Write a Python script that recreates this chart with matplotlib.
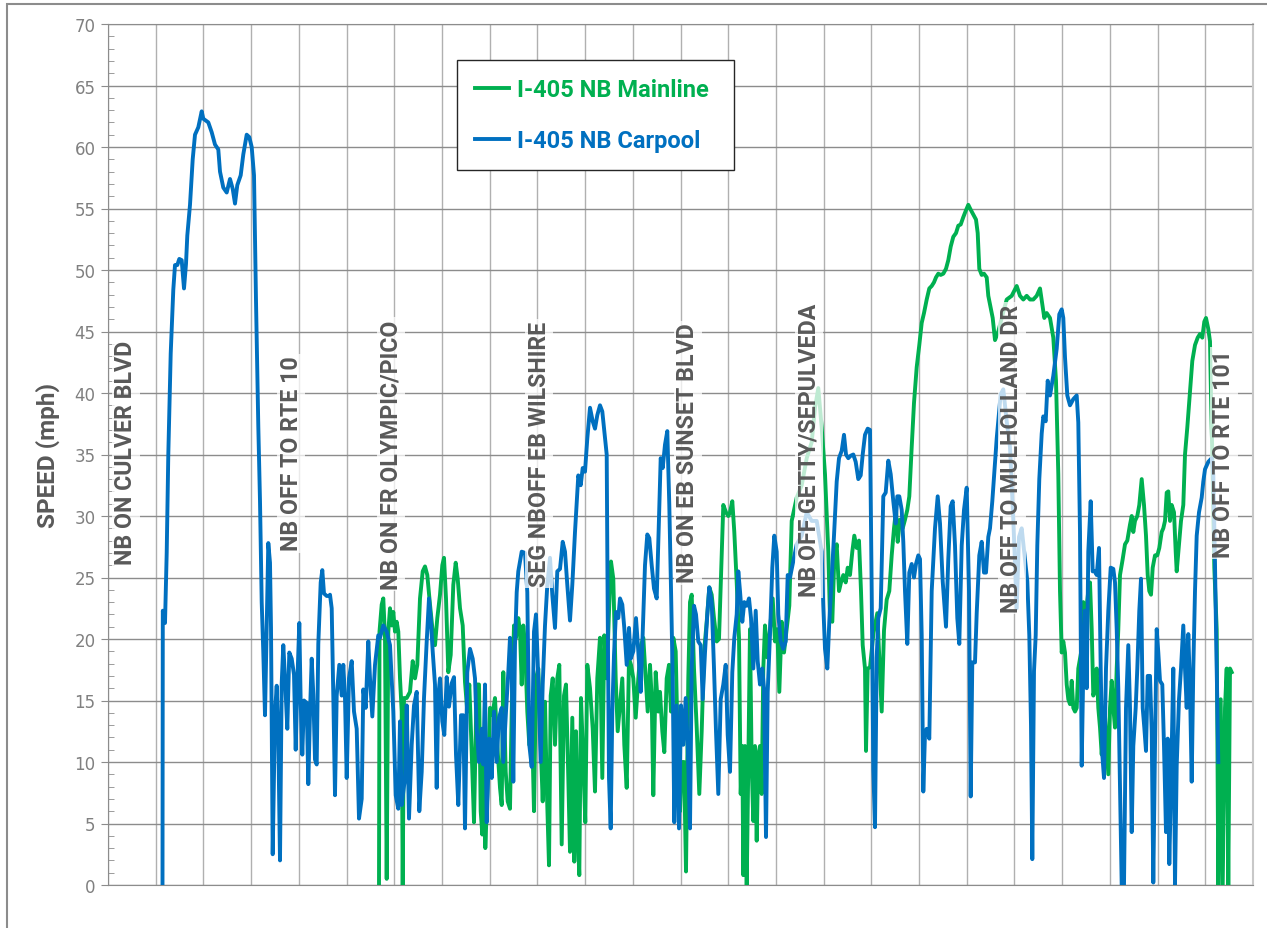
import numpy as np
import matplotlib
matplotlib.use('Agg')
import matplotlib.pyplot as plt
from matplotlib.patches import Rectangle
from matplotlib.ticker import MultipleLocator

# speed profile along I-405 NB, x = detector sample number along the corridor
carpool = [
    (54.5, 0), (54.8, 22.3), (57, 21.3), (58.7, 27), (60.3, 35), (62.7, 43.2), (65.3, 48.4),
    (67, 50.4), (69.3, 50.4), (71.3, 50.9), (73.7, 50.8), (76, 48.5), (78, 50.5), (79.3, 52.8),
    (82, 55.3), (84.7, 59), (87, 61), (90.3, 61.6), (93.7, 62.9), (95.3, 62.3), (100.3, 62),
    (103.7, 61.2), (107, 60.2), (110.3, 59.8), (112, 58), (115.3, 56.7), (118.7, 56.3),
    (122, 57.4), (124.7, 56.6), (127, 55.4), (129.3, 56.9), (132.7, 57.7), (135.3, 59.4),
    (138.7, 61), (141.3, 60.8), (143.7, 60), (146, 57.7), (148, 47.5), (150.3, 37.3),
    (152, 31.2), (153.7, 23), (155.3, 18.9), (157, 13.8), (158.7, 20.9), (160.3, 27.8),
    (162, 26.2), (163, 20.9), (164.7, 2.5), (167, 14), (168.7, 16.2), (170.3, 12), (172, 2.0),
    (173.7, 16.4), (175.3, 19.5), (177, 16.8), (179.3, 12.7), (181.3, 18.9), (183.7, 18.4),
    (186, 17.1), (187.7, 11), (189.3, 16.4), (191.3, 21.3), (192.7, 14.8), (194.3, 10.6),
    (196, 15), (198.7, 14.8), (200.3, 8.2), (202, 14), (203.7, 18.4), (205.3, 15.5),
    (207, 10.2), (208.7, 9.8), (210.3, 19.6), (212.7, 24.6), (214.3, 25.6), (216, 23.7),
    (218.7, 23.5), (221, 23.5),
    (222, 23.6), (223.7, 22.5), (225.3, 15.4), (227, 7.3), (228.7, 15.4), (231.3, 17.9),
    (233.7, 15.4), (235.3, 17.9), (237, 15.2), (238.7, 8.7), (241, 16.8), (243.7, 18.2),
    (246, 14.1), (248.7, 12.7), (251, 5.4), (253.7, 7), (255.3, 15.9), (257.7, 14.4),
    (260.3, 19.8), (262, 16.8), (264.3, 13.7), (267, 17.9), (270.3, 20.3), (272, 20.1),
    (275.3, 21.1), (278.7, 20.6), (282, 19.5), (285.3, 14.1), (287.7, 7.3), (290.3, 6.2),
    (292, 13.3), (293.7, 6.5), (297, 8.7), (298.7, 14.6), (301, 5.4), (303.7, 11.4),
    (306, 14.6), (308.7, 15.7), (311.3, 6), (313.7, 9.2), (316, 15.2), (318.7, 19.8),
    (321, 23.3), (322.7, 21.7), (324.7, 19), (327, 16.3), (328.7, 7.9), (330.3, 15.4),
    (332, 16.8), (334.3, 13.3), (336.3, 12.2), (338.7, 16.9), (341, 14.5), (343.7, 16.4),
    (346, 16.9), (348, 10.6), (350.3, 6.5), (353, 13.8), (355.3, 13.8), (357, 4.6),
    (359.3, 17.3), (362, 19.2), (364.7, 18.4), (367, 16.8), (368.7, 12.7), (371, 10),
    (373.7, 12.7), (375.3, 9.8), (377, 16.3), (378.7, 5.1), (381.3, 11.9), (383.7, 8.7),
    (386, 14.1), (388.7, 10), (391, 13.6), (393.7, 14.4), (395.3, 10), (398, 14.1), (400.3, 17.3),
    (402, 20.1), (403.7, 17.6), (405.3, 8.4), (407, 19.5), (408.7, 23.8), (410.3, 25.5),
    (413.7, 27.1), (417, 27), (419.3, 23.8), (421.3, 11.4), (423.7, 9.6), (426, 20.6),
    (428, 22), (430.3, 16.8), (432.7, 10), (434.7, 16.3), (437, 21.1), (439.3, 24.4),
    (442, 26.6), (444.3, 23.6), (447, 20.9), (449.3, 25.5), (452, 25.7), (454.7, 27.9),
    (457, 27.1), (459.3, 24.4), (462, 21.5), (464.3, 24.4), (467, 28.7), (470.3, 33.3),
    (472.7, 32.5), (474.7, 33.9), (477, 33.6), (479.3, 36.3), (482, 38.8), (484.7, 37.7),
    (487, 37.1), (489.3, 38.2), (492, 39), (494.3, 38.5), (497, 36.3), (498.7, 35),
    (499.7, 22.2), (501, 8.7), (502.7, 4.6), (504.3, 14.1), (506, 18.7), (508, 22.2),
    (510.3, 21.7), (512, 23.3), (514.3, 22.8), (516.3, 20.9), (518.7, 17.9), (521, 20.9),
    (522.7, 18.4), (525.3, 19), (528, 21.7), (530.3, 19), (532.7, 15.7), (534.7, 20.6),
    (537, 26), (539.3, 28.5), (541.3, 28.2), (543.7, 26), (546, 24.1), (548.7, 23.3),
    (551, 29.8), (552.7, 34.7), (554.7, 33.9), (557, 35.8), (559.3, 36.9), (561.3, 30.9),
    (563, 24.1), (564.7, 16.8), (566.3, 5.1), (568.7, 14.6), (571, 4.6), (573, 14.6),
    (575.3, 11.4), (577.7, 15.2), (579.7, 11.4),
    (582, 4.6), (583.7, 17.6), (586, 22.7), (588, 22), (590.3, 19.8), (592.7, 19.5),
    (594.7, 15.1), (597, 18.9), (599.3, 22), (601.3, 24.2), (603.7, 23), (606, 17.6),
    (608, 12.5), (610.3, 7.4), (612.7, 15.1), (615.3, 16.3), (617.7, 17.9), (619.7, 12.2),
    (622, 9.2), (624.3, 17.3), (626.3, 20.1), (628.7, 22), (630.3, 25.5), (632, 23.9),
    (634.3, 21.4), (636.3, 23), (638.7, 22.7), (641, 23.3), (643, 21.7), (645.3, 17.6),
    (647.7, 22.3), (649.7, 18.2), (652, 16.3), (654.3, 17.6), (656, 16), (658, 3.9),
    (659.7, 15.7), (662, 20.4), (664.3, 25.8), (666.3, 28.4), (668.7, 27.1), (670.3, 22),
    (672.7, 19.8), (675.3, 19.2), (677.7, 19.8), (679.7, 25.2), (682, 25), (688.7, 27.7),
    (693.7, 28.4), (698.7, 30.3), (703.7, 29.6), (708.7, 29.6), (713.7, 27.1), (715.3, 22.7),
    (717, 19.2), (719.3, 17.6), (721.3, 21.4), (723.7, 24.9), (726, 28.4), (728.7, 32.8),
    (731, 34.7), (733.7, 35.3), (736, 36.6), (738, 35), (740.3, 34.7), (742.7, 34.9),
    (745.3, 35), (747.7, 34.4), (750.3, 33), (752.7, 33.3), (754.7, 35), (757, 36.6),
    (759.7, 37.1),
    (762, 37), (763.7, 23.9), (765.3, 9.4), (767, 4.7), (768.7, 18.5), (770.3, 21.7),
    (772.7, 22.5), (775.3, 31.6), (777.7, 31.9), (780.3, 34.5), (782.7, 33.4), (785.3, 31.2),
    (787.7, 29.4), (789.3, 31.6), (791.3, 31.6), (793.7, 30.5), (795.3, 27.9), (797, 23.9),
    (799.3, 19.6), (801.3, 25.4), (803.7, 26.1), (806, 25), (808, 26.1), (810.3, 26.8),
    (812, 26.5), (813.7, 20.3), (815.3, 7.6), (817, 12.3), (818.7, 12.7), (821.3, 11.9),
    (823.7, 23.9), (827, 29), (829.7, 31.6), (832, 29.4), (834.7, 24.7), (838, 21),
    (840.3, 26.5), (842.7, 30.8), (844.7, 31.2), (847, 27.6), (849.3, 21.7), (851.3, 19.6),
    (853.7, 27.6), (856, 30.5), (858.7, 32.3), (861, 23.9), (862.7, 7.2), (864.3, 18.1),
    (867, 18.1), (868.7, 22.1), (871.3, 26.8), (873.7, 27.9), (876, 25.4), (878, 25.4),
    (880.3, 28.3), (882, 29), (884.3, 31.2), (888.7, 36.3), (892.7, 39.9), (895.3, 40.3),
    (898.7, 37.7), (902, 35.6), (905.3, 29.7), (908.7, 22.5), (911, 28.3), (913.7, 29),
    (917, 26.5), (919.3, 24.7), (921.3, 20.3), (923, 13), (924.3, 2.1), (926, 17.4),
    (927.7, 20.3), (929.3, 27.6), (931.3, 33), (933.7, 36.7), (935.3, 38.1), (937.7, 37.7),
    (939.7, 41),
    (942, 39.8), (945.3, 41.4), (948.7, 43.6), (951.3, 46.4), (953.7, 46.8), (955.3, 46.1),
    (957, 42.9), (959.3, 39.8), (962, 39), (965.3, 39.5), (968.7, 39.8), (970.3, 37.6),
    (972, 28.7), (973.7, 9.7), (975.3, 17.6), (977, 22.3), (978.7, 16), (980.3, 27.1),
    (982.7, 31.2), (984.7, 25.5), (987, 25.5), (988.7, 25.2), (991, 27.4), (992.7, 17.6),
    (994.3, 10.6), (996, 8.7), (998, 17.6), (1000.3, 22.3), (1002.7, 25.8), (1005.3, 25.7),
    (1007, 24.6), (1008.7, 20.8), (1010.3, 16), (1012, 8.1), (1013.7, 0), (1016, 0),
    (1018, 14.4), (1020.3, 19.5), (1022, 14.4), (1023.7, 4.3), (1025.3, 11.3), (1027.7, 14.4),
    (1029.3, 17.6), (1031.3, 22.3), (1033, 24.9), (1034.7, 14.4), (1036.3, 12.8),
    (1038, 10.9), (1039.7, 17), (1042, 17), (1043.7, 12.5), (1045.3, 0.2), (1047, 11.3),
    (1048.7, 20.8), (1050.3, 18.9), (1052, 16.6), (1054.3, 16.3), (1056, 11.3), (1058, 4.3),
    (1059.7, 11.9), (1061.3, 1.7), (1063, 8.1), (1065.3, 17.6), (1067, 0), (1068.7, 9.7),
    (1071, 15.1), (1073, 17.6), (1075.3, 21.1), (1077, 17.6), (1078.7, 14.4), (1080.3, 20.4),
    (1082, 16), (1083.7, 8.4), (1085.3, 17.6), (1087, 23.9), (1088.7, 28.4), (1091, 30.3),
    (1093.7, 31.5), (1095.3, 32.8), (1097, 33.8), (1100.3, 34.4), (1103.7, 34.7),
    (1105.3, 33.4), (1107, 26.1), (1108, 20.8), (1110.3, 10),
]

mainline = [
    (271, 0), (271.5, 20.6), (273.7, 22.8), (275.3, 23.3), (277, 20.1), (278.7, 0.5),
    (280.3, 20.6), (282, 22.5), (283.7, 21.1), (285.3, 22.2), (287, 20.6), (288.7, 21.4),
    (290.3, 20.6), (292, 16.8), (293.7, 14.1), (294.7, 0), (296, 15.2), (298.7, 15.2),
    (302, 15.7), (304.7, 18.2), (307, 16.8), (309.3, 17.9), (312, 23.3), (314.7, 25.5),
    (317, 25.9), (319.3, 25.2), (322, 22.8), (324.7, 20.6), (327, 19.5), (329.3, 21.7),
    (332, 23.6), (334.3, 26), (336, 26.6), (338, 23.3), (340.3, 17.3), (342.7, 18.7),
    (345.3, 24.4), (347.7, 26.2), (349.7, 24.9), (352, 22.5), (354.7, 21.1), (357, 16.5),
    (359.3, 14.1), (361.3, 16.3), (363.7, 10.8), (366, 5.1), (368.7, 16.3), (371, 16.3),
    (372.7, 6), (374.3, 4.1), (376, 10.6), (377.3, 3), (379.3, 7.3), (382, 14.4),
    (384.3, 13.8), (387, 15.2), (389.3, 11.4), (392, 7.9), (393.7, 6.5), (395.3, 17.3),
    (397.7, 9.2), (399.7, 6.8),
    (402, 6.2), (403.7, 14.1), (406, 21.1), (408, 20.1), (410.3, 21.7), (412, 20.6),
    (413.7, 16.3), (415.3, 21.1), (417, 19.5), (419.3, 14.1), (421.3, 11.4), (423.7, 14.1),
    (426, 6), (428, 16.8), (430.3, 17.6), (432.7, 11.4), (434.7, 6.8), (437, 14.9),
    (438.7, 8.1), (441, 1.6), (442.7, 15.4), (444.7, 16.8), (447, 11.4), (449.3, 16.8),
    (451.3, 17.9), (453.7, 3.3), (456, 15.4), (458, 16.3), (460.3, 8.7), (462, 2.7),
    (464.3, 13.6), (466.3, 1.9), (468, 12.5), (469.7, 4.3), (471.3, 0.8), (473, 15.2),
    (475.3, 10), (477.3, 5.1), (479.3, 17.9), (482, 16), (484.7, 12.7), (487, 7.6),
    (489.3, 16.8), (492, 20.1), (494.3, 8.7), (496.3, 20.3), (498.7, 16.8), (501, 22.2),
    (503, 26.3), (505.3, 24.9), (507.7, 16.8), (509.7, 12.5), (512, 14.6), (514.3, 16.8),
    (516.3, 11.4), (518.7, 7.9), (521, 18.4), (523, 17.9), (525.3, 16.8), (527.7, 13.6),
    (530.3, 16.8), (533, 19.5), (535.3, 20.1), (537.7, 16.8), (539.7, 14.1), (542, 17.9),
    (543.7, 15.2), (545.3, 7.3), (547.7, 17.3), (550.3, 14.1), (552, 15.7), (554.3, 12.5),
    (556.3, 10.8), (558.7, 16.8), (561, 17.9), (563, 14.1), (565.3, 20.1), (567.7, 19),
    (569.7, 11.4), (572, 6), (573.7, 10), (576, 10), (578, 1.1), (580.3, 16.8),
    (582, 23), (583.7, 23.6), (586, 17.6), (588.7, 12.8), (591.3, 7.4), (593.7, 12.5),
    (596, 18.9), (598.7, 21.4), (601.3, 24.2), (603.7, 23.6), (606, 21.7), (608.7, 19.8),
    (611, 20), (613, 25.2), (615.3, 30.9), (618, 30.3), (620.3, 30), (622, 30.3),
    (624.3, 31.2), (626.3, 28.7), (628.7, 24.6), (631, 20.1), (632.7, 7.4), (634.3, 11.3),
    (635.3, 0.8), (637, 11.3), (638.7, 0), (640.3, 9.7), (642, 20.8), (643.7, 9.7),
    (645.3, 5.2), (647, 11.3), (648.7, 3.6), (650.3, 10.6), (652, 11.3), (653.7, 7.4),
    (655.3, 17.6), (657, 21.1), (659.3, 18.5), (662, 20.8), (664.7, 23.3), (667, 19.8),
    (669.3, 20.8), (671.3, 15.7), (673.7, 21.4), (676, 18.9), (678.7, 20.8), (681.3, 22.7),
    (683.7, 29.6), (688.7, 31.5), (693.7, 32.5), (698.7, 34.7), (703.7, 36), (707, 38.8),
    (710.3, 40.4), (713.7, 37.2), (717, 33.4), (720.3, 27.1), (722, 21.7), (724.3, 21.4),
    (726.3, 26.5), (728.7, 27.7), (731, 23.9), (733, 24.6), (735.3, 25.2), (737.7, 24.6),
    (739.7, 25.8), (742, 25.2), (744.3, 27.1), (746.3, 28.4), (748.7, 27.4), (751, 28),
    (753, 23.9), (754.7, 19.5), (757, 17.6), (758, 10.9), (759.7, 17.6),
    (762, 17.7), (765.5, 20.5), (769.3, 22.1), (773.7, 14.1), (776, 20.7), (778.7, 23.2),
    (781.3, 23.9), (783.7, 26.8), (786, 29), (788, 30.5), (789.7, 27.9), (792, 29.7),
    (794.7, 29), (797, 29.7), (799.3, 30.5), (801.3, 31.6), (803.7, 35.6), (806, 39.2),
    (808.7, 42.1), (811.3, 43.9), (813.7, 45.7), (816, 46.5), (818.7, 47.6), (821.3, 48.5),
    (823.7, 48.7), (826, 49), (828, 49.4), (830.3, 49.7), (832.7, 49.6), (835.3, 49.7),
    (838, 50.1), (840.3, 50.8), (842.7, 51.9), (845.3, 52.7), (848, 53), (850.3, 53.6),
    (852.7, 53.7), (855.3, 54.3), (857.7, 54.8), (860.3, 55.3), (862.7, 54.9), (865.3, 54.5),
    (868, 54.1), (869.7, 53), (871.3, 50.1), (873.7, 49.6), (876, 49.7), (878.7, 49.4),
    (880.3, 47.9), (882, 47.2), (884.7, 46.1), (887, 44.3), (890.3, 45), (893.7, 46.1),
    (898.7, 47.6), (903.7, 47.9), (908.7, 48.7), (912, 47.9), (915.3, 47.6), (918.7, 47.9),
    (922, 47.6), (925.3, 47.6), (928.7, 47.9), (932, 48.5), (934.3, 47.2), (936.3, 46.1),
    (938.7, 46.5),
    (942, 46.1), (945.3, 44.5), (948, 41), (950.3, 33.4), (952, 23.9), (953.7, 18.9),
    (955.3, 19.8), (957, 18.9), (958.7, 16.3), (960.3, 15.1), (962, 14.7), (963.7, 16.6),
    (965.3, 14.4), (967, 14.1), (968.7, 14.4), (970.3, 17.6), (973.7, 19.2), (975.3, 23),
    (977, 20.8), (978.7, 22.7), (980.3, 23.9), (982, 24.6), (983.7, 20.8), (985.3, 15.4),
    (987, 16), (988.7, 17.6), (990.3, 14.4), (992, 12.8), (993.7, 10.6), (995.3, 12.8),
    (997, 13.8), (998.7, 11.3), (1000.3, 9), (1002, 14.4), (1003.7, 16.6), (1005.3, 14.4),
    (1007, 12.8), (1008.7, 17.6), (1010.3, 20.8), (1012, 25.2), (1014.7, 26.5), (1017, 27.7),
    (1019.3, 28), (1022, 29.3), (1023.7, 30), (1025.3, 28.7), (1027, 29.6), (1029.3, 30),
    (1031.3, 30.9), (1033.7, 33), (1036, 30.9), (1038, 28.4), (1039.7, 25.2), (1041.3, 23.9),
    (1043, 23.6), (1044.7, 25.8), (1047, 26.8), (1049.3, 26.8), (1051.3, 27.4), (1053.7, 28.7),
    (1055.3, 29), (1057, 29.6), (1058.7, 31.9), (1060.3, 32), (1062, 29.6), (1063.7, 30.9),
    (1066, 30.3), (1067.7, 27.1), (1068.7, 25.5), (1071, 27.7), (1073, 29.6), (1075.3, 30.9),
    (1077, 35), (1079.3, 37.2), (1082, 40.1), (1084.3, 42.6), (1087, 43.9), (1089.7, 44.5),
    (1092, 44.8), (1094.3, 44.5), (1096.3, 45.8), (1098, 46.1), (1100.3, 45.2), (1102, 44.2),
    (1103, 39.8), (1104.3, 35), (1106.3, 25.8), (1108.7, 20.8), (1110.3, 0), (1112.7, 15.1),
    (1114.7, 0), (1117, 14.4), (1118.7, 17.6), (1120.3, 0), (1122, 17.6), (1123.7, 17.3),
]

# location markers: (sample, baseline mph, text)
locations = [
    (18, 26.1, 'NB ON CULVER BLVD'),
    (183, 27.2, 'NB OFF TO RTE 10'),
    (283, 24.1, 'NB ON FR OLYMPIC/PICO'),
    (431, 24.3, 'SEG NBOFF EB WILSHIRE'),
    (580, 24.6, 'NB ON EB SUNSET BLVD'),
    (701, 23.5, 'NB OFF GETTY/SEPULVEDA'),
    (904, 22.2, 'NB OFF TO MULHOLLAND DR'),
    (1116, 26.7, 'NB OFF TO RTE 101'),
]

n_samples = 1145
green = '#00B050'
blue = '#0070C0'
bold_font = ['Roboto', 'DejaVu Sans']

cp = np.array(carpool)
ml = np.array(mainline)

fig = plt.figure(figsize=(12.67, 9.29), dpi=100)
ax = fig.add_axes([108 / 1267, 1 - 886 / 929, 1145 / 1267, 861 / 929])

ax.plot(ml[:, 0], ml[:, 1], color=green, lw=2.8, label='I-405 NB Mainline', zorder=3,
        solid_joinstyle='round')
ax.plot(cp[:, 0], cp[:, 1], color=blue, lw=2.8, label='I-405 NB Carpool', zorder=4,
        solid_joinstyle='round')

ax.set_xlim(0, n_samples)
ax.set_ylim(0, 70)
ax.set_xticks(np.linspace(0, n_samples, 25))
ax.set_xticklabels([])
ax.tick_params(axis='x', length=0)
ax.yaxis.set_major_locator(MultipleLocator(5))
ax.yaxis.set_minor_locator(MultipleLocator(1))
ax.tick_params(axis='y', which='major', length=5, direction='out', color='#8c8c8c',
               labelsize=12, labelcolor='#808080', pad=4)
ax.tick_params(axis='y', which='minor', length=4, direction='in', color='#8c8c8c')
ax.grid(axis='y', which='major', color='#8c8c8c', lw=1)
ax.grid(axis='x', which='major', color='#b0b0b0', lw=1)
ax.set_axisbelow(True)

for side in ['left', 'bottom', 'top']:
    ax.spines[side].set_color('#8c8c8c')
ax.spines['right'].set_color('#c8c8c8')
ax.spines['right'].set_linewidth(1.5)

ax.set_ylabel('SPEED (mph)', fontsize=17.5, fontweight='bold', color='#595959',
              labelpad=10, family=bold_font)

for pos, base, name in locations:
    ax.text(pos, base, name, rotation=90, ha='center', va='bottom', fontsize=16.7,
            family=bold_font, fontweight='bold', color='#595959', zorder=6,
            bbox=dict(facecolor='white', alpha=0.75, edgecolor='none', pad=1.5))

leg = ax.legend(loc='upper left', bbox_to_anchor=(0.3048, 0.828, 0.2419, 0.13),
                mode='expand', borderaxespad=0, fancybox=False, framealpha=1,
                edgecolor='#262626', handlelength=1.45, handletextpad=0.35,
                borderpad=0.75, labelspacing=1.2, labelcolor='linecolor',
                prop={'family': bold_font, 'weight': 'bold', 'size': 17})
leg.get_frame().set_linewidth(1.0)
leg.set_zorder(7)

fig.patches.append(Rectangle((7 / 1267, -0.05), 1.2, 1.05 - 5 / 929, fill=False,
                             edgecolor='#8c8c8c', lw=1.5, transform=fig.transFigure))

fig.savefig('out.png', dpi=100)
